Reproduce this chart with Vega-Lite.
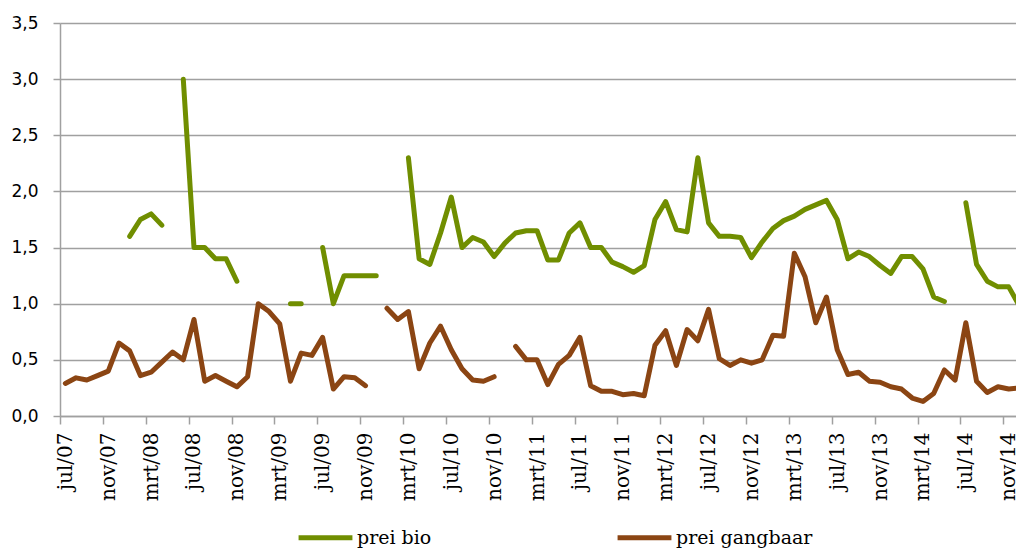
{
  "$schema": "https://vega.github.io/schema/vega-lite/v6.json",
  "width": 956,
  "height": 393,
  "autosize": {"type": "none"},
  "padding": {"left": 60, "top": 23, "right": 0, "bottom": 132},
  "background": "white",
  "config": {"view": {"stroke": null}},
  "data": {"values": [
    {"maandnr": 0, "prei bio": null, "prei gangbaar": 0.29},
    {"maandnr": 1, "prei bio": null, "prei gangbaar": 0.34},
    {"maandnr": 2, "prei bio": null, "prei gangbaar": 0.32},
    {"maandnr": 3, "prei bio": null, "prei gangbaar": 0.36},
    {"maandnr": 4, "prei bio": null, "prei gangbaar": 0.40},
    {"maandnr": 5, "prei bio": null, "prei gangbaar": 0.65},
    {"maandnr": 6, "prei bio": 1.60, "prei gangbaar": 0.58},
    {"maandnr": 7, "prei bio": 1.75, "prei gangbaar": 0.36},
    {"maandnr": 8, "prei bio": 1.80, "prei gangbaar": 0.39},
    {"maandnr": 9, "prei bio": 1.70, "prei gangbaar": 0.48},
    {"maandnr": 10, "prei bio": null, "prei gangbaar": 0.57},
    {"maandnr": 11, "prei bio": 3.00, "prei gangbaar": 0.50},
    {"maandnr": 12, "prei bio": 1.50, "prei gangbaar": 0.86},
    {"maandnr": 13, "prei bio": 1.50, "prei gangbaar": 0.31},
    {"maandnr": 14, "prei bio": 1.40, "prei gangbaar": 0.36},
    {"maandnr": 15, "prei bio": 1.40, "prei gangbaar": 0.31},
    {"maandnr": 16, "prei bio": 1.20, "prei gangbaar": 0.26},
    {"maandnr": 17, "prei bio": null, "prei gangbaar": 0.35},
    {"maandnr": 18, "prei bio": null, "prei gangbaar": 1.00},
    {"maandnr": 19, "prei bio": null, "prei gangbaar": 0.93},
    {"maandnr": 20, "prei bio": null, "prei gangbaar": 0.82},
    {"maandnr": 21, "prei bio": 1.00, "prei gangbaar": 0.31},
    {"maandnr": 22, "prei bio": 1.00, "prei gangbaar": 0.56},
    {"maandnr": 23, "prei bio": null, "prei gangbaar": 0.54},
    {"maandnr": 24, "prei bio": 1.50, "prei gangbaar": 0.70},
    {"maandnr": 25, "prei bio": 1.00, "prei gangbaar": 0.24},
    {"maandnr": 26, "prei bio": 1.25, "prei gangbaar": 0.35},
    {"maandnr": 27, "prei bio": 1.25, "prei gangbaar": 0.34},
    {"maandnr": 28, "prei bio": 1.25, "prei gangbaar": 0.27},
    {"maandnr": 29, "prei bio": 1.25, "prei gangbaar": null},
    {"maandnr": 30, "prei bio": null, "prei gangbaar": 0.96},
    {"maandnr": 31, "prei bio": null, "prei gangbaar": 0.86},
    {"maandnr": 32, "prei bio": 2.30, "prei gangbaar": 0.93},
    {"maandnr": 33, "prei bio": 1.40, "prei gangbaar": 0.42},
    {"maandnr": 34, "prei bio": 1.35, "prei gangbaar": 0.65},
    {"maandnr": 35, "prei bio": 1.63, "prei gangbaar": 0.80},
    {"maandnr": 36, "prei bio": 1.95, "prei gangbaar": 0.59},
    {"maandnr": 37, "prei bio": 1.50, "prei gangbaar": 0.42},
    {"maandnr": 38, "prei bio": 1.59, "prei gangbaar": 0.32},
    {"maandnr": 39, "prei bio": 1.55, "prei gangbaar": 0.31},
    {"maandnr": 40, "prei bio": 1.42, "prei gangbaar": 0.35},
    {"maandnr": 41, "prei bio": 1.54, "prei gangbaar": null},
    {"maandnr": 42, "prei bio": 1.63, "prei gangbaar": 0.62},
    {"maandnr": 43, "prei bio": 1.65, "prei gangbaar": 0.50},
    {"maandnr": 44, "prei bio": 1.65, "prei gangbaar": 0.50},
    {"maandnr": 45, "prei bio": 1.39, "prei gangbaar": 0.28},
    {"maandnr": 46, "prei bio": 1.39, "prei gangbaar": 0.46},
    {"maandnr": 47, "prei bio": 1.63, "prei gangbaar": 0.54},
    {"maandnr": 48, "prei bio": 1.72, "prei gangbaar": 0.70},
    {"maandnr": 49, "prei bio": 1.50, "prei gangbaar": 0.27},
    {"maandnr": 50, "prei bio": 1.50, "prei gangbaar": 0.22},
    {"maandnr": 51, "prei bio": 1.37, "prei gangbaar": 0.22},
    {"maandnr": 52, "prei bio": 1.33, "prei gangbaar": 0.19},
    {"maandnr": 53, "prei bio": 1.28, "prei gangbaar": 0.20},
    {"maandnr": 54, "prei bio": 1.34, "prei gangbaar": 0.18},
    {"maandnr": 55, "prei bio": 1.75, "prei gangbaar": 0.63},
    {"maandnr": 56, "prei bio": 1.91, "prei gangbaar": 0.76},
    {"maandnr": 57, "prei bio": 1.66, "prei gangbaar": 0.45},
    {"maandnr": 58, "prei bio": 1.64, "prei gangbaar": 0.77},
    {"maandnr": 59, "prei bio": 2.30, "prei gangbaar": 0.67},
    {"maandnr": 60, "prei bio": 1.72, "prei gangbaar": 0.95},
    {"maandnr": 61, "prei bio": 1.60, "prei gangbaar": 0.51},
    {"maandnr": 62, "prei bio": 1.60, "prei gangbaar": 0.45},
    {"maandnr": 63, "prei bio": 1.59, "prei gangbaar": 0.50},
    {"maandnr": 64, "prei bio": 1.41, "prei gangbaar": 0.47},
    {"maandnr": 65, "prei bio": 1.55, "prei gangbaar": 0.50},
    {"maandnr": 66, "prei bio": 1.67, "prei gangbaar": 0.72},
    {"maandnr": 67, "prei bio": 1.74, "prei gangbaar": 0.71},
    {"maandnr": 68, "prei bio": 1.78, "prei gangbaar": 1.45},
    {"maandnr": 69, "prei bio": 1.84, "prei gangbaar": 1.24},
    {"maandnr": 70, "prei bio": 1.88, "prei gangbaar": 0.83},
    {"maandnr": 71, "prei bio": 1.92, "prei gangbaar": 1.06},
    {"maandnr": 72, "prei bio": 1.75, "prei gangbaar": 0.59},
    {"maandnr": 73, "prei bio": 1.40, "prei gangbaar": 0.37},
    {"maandnr": 74, "prei bio": 1.46, "prei gangbaar": 0.39},
    {"maandnr": 75, "prei bio": 1.42, "prei gangbaar": 0.31},
    {"maandnr": 76, "prei bio": 1.34, "prei gangbaar": 0.30},
    {"maandnr": 77, "prei bio": 1.27, "prei gangbaar": 0.26},
    {"maandnr": 78, "prei bio": 1.42, "prei gangbaar": 0.24},
    {"maandnr": 79, "prei bio": 1.42, "prei gangbaar": 0.16},
    {"maandnr": 80, "prei bio": 1.31, "prei gangbaar": 0.13},
    {"maandnr": 81, "prei bio": 1.06, "prei gangbaar": 0.20},
    {"maandnr": 82, "prei bio": 1.02, "prei gangbaar": 0.41},
    {"maandnr": 83, "prei bio": null, "prei gangbaar": 0.32},
    {"maandnr": 84, "prei bio": 1.90, "prei gangbaar": 0.83},
    {"maandnr": 85, "prei bio": 1.35, "prei gangbaar": 0.31},
    {"maandnr": 86, "prei bio": 1.20, "prei gangbaar": 0.21},
    {"maandnr": 87, "prei bio": 1.15, "prei gangbaar": 0.26},
    {"maandnr": 88, "prei bio": 1.15, "prei gangbaar": 0.24},
    {"maandnr": 89, "prei bio": 0.98, "prei gangbaar": 0.25}
  ]},
  "transform": [{"fold": ["prei bio", "prei gangbaar"], "as": ["reeks", "prijs"]}],
  "mark": {"type": "line", "strokeWidth": 5, "clip": true, "invalid": "break-paths-show-domains", "strokeCap": "round", "strokeJoin": "round"},
  "encoding": {
    "x": {
      "field": "maandnr", "type": "quantitative",
      "scale": {"domain": [-0.5, 88.68], "nice": false, "zero": false},
      "axis": {
        "title": null,
        "values": [-0.5, 3.5, 7.5, 11.5, 15.5, 19.5, 23.5, 27.5, 31.5, 35.5, 39.5, 43.5, 47.5, 51.5, 55.5, 59.5, 63.5, 67.5, 71.5, 75.5, 79.5, 83.5, 87.5],
        "labelExpr": "['jul','nov','mrt'][((datum.value + 0.5) / 4) % 3] + '/' + format(7 + floor((datum.value + 6.5) / 12), '02d')",
        "labelAngle": -90, "labelAlign": "right", "labelBaseline": "middle",
        "labelOffset": 5.36, "labelPadding": 8, "labelFlush": false, "labelOverlap": false, "labelBound": false,
        "labelFont": "DejaVu Serif", "labelFontSize": 20, "labelColor": "#000000",
        "tickSize": 8, "tickColor": "#a0a0a0", "tickWidth": 1.5,
        "domainColor": "#a0a0a0", "domainWidth": 1.5, "grid": false
      }
    },
    "y": {
      "field": "prijs", "type": "quantitative",
      "scale": {"domain": [0, 3.5], "nice": false},
      "axis": {
        "title": null,
        "values": [0, 0.5, 1, 1.5, 2, 2.5, 3, 3.5],
        "labelExpr": "replace(format(datum.value, '.1f'), '.', ',')",
        "labelFont": "DejaVu Sans", "labelFontSize": 17, "labelColor": "#000000", "labelPadding": 15,
        "tickSize": 7, "tickColor": "#a0a0a0", "tickWidth": 1.5,
        "domainColor": "#a0a0a0", "domainWidth": 1.5,
        "grid": true, "gridColor": "#a0a0a0", "gridWidth": 1.5
      }
    },
    "color": {
      "field": "reeks", "type": "nominal",
      "scale": {"domain": ["prei bio", "prei gangbaar"], "range": ["#708e00", "#8b4513"]},
      "legend": {
        "title": null, "orient": "none", "direction": "horizontal",
        "legendX": 236, "legendY": 485,
        "symbolType": "stroke", "symbolSize": 2900, "symbolStrokeWidth": 5,
        "labelFont": "DejaVu Serif", "labelFontSize": 19, "labelColor": "#000000",
        "labelOffset": 2, "columnPadding": 175
      }
    }
  }
}
